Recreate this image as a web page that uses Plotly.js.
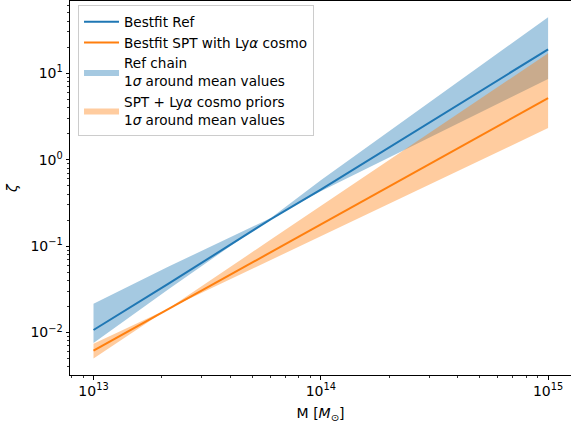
<!DOCTYPE html>
<html>
<head>
<meta charset="utf-8">
<script src="https://cdn.plot.ly/plotly-3.0.1.min.js"></script>
<style>html,body{margin:0;padding:0;background:#fff;}#chart{width:571px;height:425px;}</style>
</head>
<body>
<div id="chart"></div>
<script>
// Halo mass grid (includes the points where the band edges cross)
const mass = [1e13, 2.13e13, 6.03e13, 1e14, 1e15];

// Best-fit relations
const bestRef = [0.0107, 0.0365, 0.205, 0.450, 18.9];
const bestSPT = [0.00617, 0.0186, 0.0847, 0.178, 5.14];

// 1-sigma bands
const refUpper = [0.0216, 0.0576, 0.212, 0.579, 44.3];
const refLower = [0.00759, 0.0315, 0.212, 0.431, 8.59];
const sptUpper = [0.00741, 0.0188, 0.119, 0.292, 17.0];
const sptLower = [0.00501, 0.0188, 0.0695, 0.131, 2.32];

// Axis ticks
const xMajor = [1e13, 1e14, 1e15];
const xMajorText = ['10<sup>13</sup>', '10<sup>14</sup>', '10<sup>15</sup>'];
const yMajor = [1e-2, 1e-1, 1, 10];
const yMajorText = ['10<sup>\u22122</sup>', '10<sup>\u22121</sup>', '10<sup>0</sup>', '10<sup>1</sup>'];

function minors(lo, hi) {
  const out = [];
  for (let e = lo; e <= hi; e++) for (let m = 2; m <= 9; m++) out.push(m * Math.pow(10, e));
  return out;
}
const xMinor = minors(12, 15);
const yMinor = minors(-3, 1);

function band(upper, lower) {
  return {
    x: mass.concat(mass.slice().reverse()),
    y: upper.concat(lower.slice().reverse())
  };
}

const refBand = band(refUpper, refLower);
const sptBand = band(sptUpper, sptLower);

const traces = [
  {x: refBand.x, y: refBand.y, type: 'scatter', mode: 'lines', fill: 'toself',
   fillcolor: 'rgba(31,119,180,0.4)', line: {width: 0, color: 'rgba(0,0,0,0)'},
   name: 'Ref chain<br>1<i>σ</i> around mean values', legendrank: 3, hoverinfo: 'skip'},
  {x: sptBand.x, y: sptBand.y, type: 'scatter', mode: 'lines', fill: 'toself',
   fillcolor: 'rgba(255,127,14,0.4)', line: {width: 0, color: 'rgba(0,0,0,0)'},
   name: 'SPT + Ly<i>α</i> cosmo priors<br>1<i>σ</i> around mean values', legendrank: 4, hoverinfo: 'skip'},
  {x: mass, y: bestRef, type: 'scatter', mode: 'lines', line: {color: '#1f77b4', width: 2},
   name: 'Bestfit Ref', legendrank: 1},
  {x: mass, y: bestSPT, type: 'scatter', mode: 'lines', line: {color: '#ff7f0e', width: 2},
   name: 'Bestfit SPT with Ly<i>α</i> cosmo', legendrank: 2}
];

const FF = 'DejaVu Sans, sans-serif';
const font = {family: FF, size: 14, color: '#000'};

const layout = {
  width: 571, height: 425,
  margin: {l: 70, r: 0, t: 1, b: 50, pad: 0},
  paper_bgcolor: '#fff', plot_bgcolor: '#fff',
  font: font,
  showlegend: true,
  legend: {
    x: 0.016, y: 0.988, xanchor: 'left', yanchor: 'top',
    bgcolor: 'rgba(255,255,255,0.8)', bordercolor: '#cccccc', borderwidth: 1,
    font: {family: FF, size: 13.6, color: '#000'},
    traceorder: 'normal', itemwidth: 35, tracegroupgap: 0
  },
  xaxis: {
    type: 'log', range: [12.8966, 15.1008],
    showline: true, mirror: true, linecolor: '#000', linewidth: 1,
    showgrid: false, zeroline: false,
    ticks: 'outside', ticklen: 3.5, tickwidth: 1, tickcolor: '#000',
    tickmode: 'array', tickvals: xMajor, ticktext: xMajorText,
    minor: {tickmode: 'array', tickvals: xMinor, ticks: 'outside', ticklen: 2, tickwidth: 0.8, tickcolor: '#000', showgrid: false},
    tickfont: {family: FF, size: 14, color: '#000'},
    title: {text: 'M [<i>M</i><sub>⊙</sub>]', font: {family: FF, size: 14, color: '#000'}, standoff: 9}
  },
  yaxis: {
    type: 'log', range: [-2.491, 1.835],
    showline: true, mirror: true, linecolor: '#000', linewidth: 1,
    showgrid: false, zeroline: false,
    ticks: 'outside', ticklen: 3.5, tickwidth: 1, tickcolor: '#000',
    tickmode: 'array', tickvals: yMajor, ticktext: yMajorText,
    minor: {tickmode: 'array', tickvals: yMinor, ticks: 'outside', ticklen: 2, tickwidth: 0.8, tickcolor: '#000', showgrid: false},
    tickfont: {family: FF, size: 14, color: '#000'},
    title: {text: '', font: {family: FF, size: 14, color: '#000'}}
  },
  annotations: [{
    text: '<i>ζ</i>', xref: 'paper', yref: 'paper', x: -0.116, y: 0.5,
    xanchor: 'center', yanchor: 'middle', showarrow: false, textangle: -90,
    font: {family: FF, size: 14, color: '#000'}
  }]
};

Plotly.newPlot('chart', traces, layout, {displayModeBar: false, staticPlot: true});
</script>
</body>
</html>
